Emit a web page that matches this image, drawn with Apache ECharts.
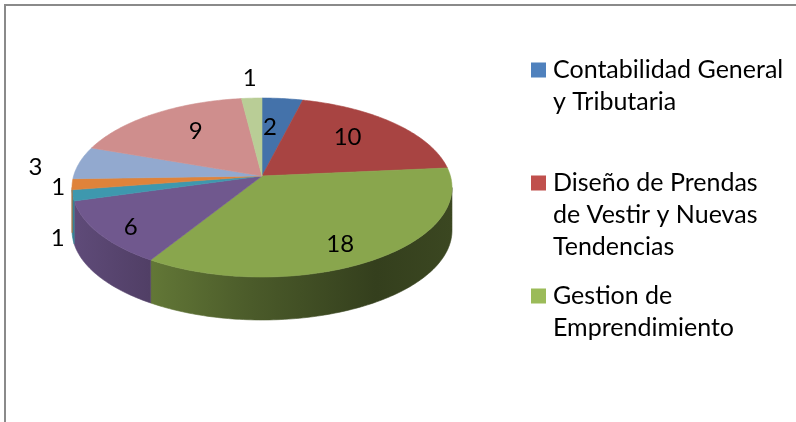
<!DOCTYPE html>
<html lang="es">
<head>
    <meta charset="UTF-8">
    <meta name="viewport" content="width=device-width, initial-scale=1.0">
    <title>Cursos</title>
    <style>
        * {
            padding: 0;
            margin: 0;
        }
        html, body {
            width: 100%;
            height: 100%;
            background: #fff;
        }
        #chart {
            width: 796px;
            height: 422px;
        }
    </style>
</head>
<body>
    <div id="chart"></div>
    <script src="https://cdn.jsdelivr.net/npm/echarts@6/dist/echarts.min.js"></script>
    <script type="text/javascript">
        // datos del grafico
        const categories = [
            'Contabilidad General y Tributaria',
            'Diseño de Prendas de Vestir y Nuevas Tendencias',
            'Gestion de Emprendimiento',
            'Categoría 4',
            'Categoría 5',
            'Categoría 6',
            'Categoría 7',
            'Categoría 8',
            'Categoría 9'
        ];
        const values = [2, 10, 18, 6, 1, 1, 3, 9, 1];
        // texto de la leyenda (solo se ven las tres primeras)
        const legendLines = [
            'Contabilidad General\ny Tributaria',
            'Diseño de Prendas\nde Vestir y Nuevas\nTendencias',
            'Gestion de\nEmprendimiento'
        ];

        const colors = ['#4472AA', '#A84442', '#89A64D', '#70588E', '#3E98AE', '#DF833A', '#92A9CF', '#CF8E8D', '#B9CD96'];
        const legendColors = ['#4F81BD', '#C0504D', '#9BBB59'];
        const labelInside = [true, true, true, true, false, false, false, true, false];
        const labelNudge = [[-7, 7], [-9, -1], [3, 12], [-20, 12], [-15, 43], [-14, 3], [-44, 5], [11, 0], [-2, -20]];
        const legendTop = [54, 167, 280];
        const LINE_H = 32;
        const FONT = 'Lato';

        // geometria de la torta 3D (circulo visto en perspectiva)
        const CX = 262, CY = 176, SX = 188.4, SY = 88, K = 0.1286, DEPTH = 43;
        const total = values.reduce((a, b) => a + b, 0);
        const starts = values.map((v, i) => values.slice(0, i).reduce((a, b) => a + b, 0));
        const SIDE_FROM = Math.acos(-K), SIDE_TO = Math.PI * 2 - Math.acos(-K);

        function proj(t, r, dy) {
            let X = r * Math.sin(t), Y = r * Math.cos(t);
            let d = 1 + K * Y;
            return [CX + SX * X / d, CY - SY * Y / d + (dy || 0)];
        }
        function shade(hex, f) {
            let n = parseInt(hex.slice(1), 16);
            let r = Math.round(((n >> 16) & 255) * f);
            let g = Math.round(((n >> 8) & 255) * f);
            let b = Math.round((n & 255) * f);
            return 'rgb(' + r + ',' + g + ',' + b + ')';
        }
        function sideFill(hex) {
            let stops = [[0, 0.85], [0.2, 0.72], [0.47, 0.55], [0.8, 0.38], [1, 0.43]];
            return new echarts.graphic.LinearGradient(CX - 190, 0, CX + 190, 0,
                stops.map(s => ({ offset: s[0], color: shade(hex, s[1]) })), true);
        }

        function renderSlice(params, api) {
            let i = params.seriesIndex;
            let s = api.value(0), v = api.value(1);
            let a0 = s / total * Math.PI * 2;
            let a1 = (s + v) / total * Math.PI * 2;
            let color = colors[i];
            let children = [];

            // pared lateral (solo la parte visible de adelante)
            let b0 = Math.max(a0, SIDE_FROM), b1 = Math.min(a1, SIDE_TO);
            if (b1 > b0) {
                let n = Math.max(2, Math.ceil((b1 - b0) / (Math.PI / 180)));
                let pts = [];
                for (let k = 0; k <= n; k++) pts.push(proj(b0 + (b1 - b0) * k / n, 1, 0));
                for (let k = n; k >= 0; k--) pts.push(proj(b0 + (b1 - b0) * k / n, 1, DEPTH));
                let fill = sideFill(color);
                children.push({ type: 'polygon', shape: { points: pts }, style: { fill: fill, stroke: fill, lineWidth: 0.6 } });
            }

            // cara superior
            let n = Math.max(2, Math.ceil((a1 - a0) / (Math.PI / 180)));
            let top = [[CX, CY]];
            for (let k = 0; k <= n; k++) top.push(proj(a0 + (a1 - a0) * k / n, 1, 0));
            children.push({ type: 'polygon', shape: { points: top }, style: { fill: color, stroke: color, lineWidth: 0.6 } });

            // etiqueta
            let p = proj((a0 + a1) / 2, labelInside[i] ? 0.7 : 1, 0);
            children.push({
                type: 'text', x: p[0] + labelNudge[i][0], y: p[1] + labelNudge[i][1], z2: 10,
                style: { text: String(v), fill: '#000', fontFamily: FONT, fontSize: 24, align: 'center', verticalAlign: 'middle' }
            });
            return { type: 'group', children: children };
        }

        let series = categories.map((name, i) => ({
            type: 'custom',
            name: name,
            coordinateSystem: 'none',
            silent: true,
            animation: false,
            itemStyle: { color: i < 3 ? legendColors[i] : colors[i] },
            data: [[starts[i], values[i]]],
            renderItem: renderSlice
        }));

        // icono cuadrado alineado con la primera linea del texto
        function legendIcon(h) {
            let y0 = LINE_H / 2 - 7.5, y1 = LINE_H / 2 + 7.5;
            return 'path://M0,0L0.01,0Z M0,' + y0 + 'L15,' + y0 + 'L15,' + y1 + 'L0,' + y1 + 'Z M17,' + h + 'L16.99,' + h + 'Z';
        }

        let legend = legendLines.map((txt, i) => {
            let h = txt.split('\n').length * LINE_H;
            return {
                data: [categories[i]],
                orient: 'vertical',
                left: 531,
                top: legendTop[i],
                padding: 0,
                icon: legendIcon(h),
                itemWidth: 17,
                itemHeight: h,
                selectedMode: false,
                formatter: () => txt,
                textStyle: {
                    fontFamily: FONT,
                    fontSize: 25,
                    lineHeight: LINE_H,
                    color: '#000'
                }
            };
        });

        let myChart = echarts.init(document.getElementById('chart'));
        myChart.setOption({
            backgroundColor: '#fff',
            animation: false,
            legend: legend,
            graphic: [{
                type: 'rect',
                shape: { x: 5, y: 5, width: 820, height: 450 },
                style: { fill: 'none', stroke: '#8a8a8a', lineWidth: 2 },
                silent: true
            }],
            series: series
        });
    </script>
</body>
</html>
